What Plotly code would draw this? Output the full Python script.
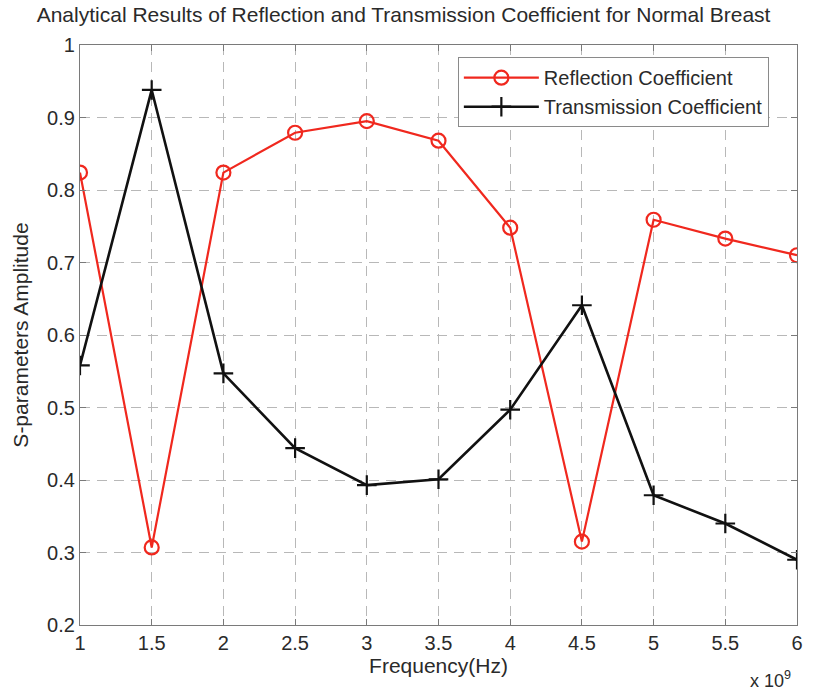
import plotly.graph_objects as go

freq_hz = [1.0e9, 1.5e9, 2.0e9, 2.5e9, 3.0e9, 3.5e9, 4.0e9, 4.5e9, 5.0e9, 5.5e9, 6.0e9]
reflection = [0.824, 0.307, 0.824, 0.879, 0.895, 0.868, 0.748, 0.315, 0.759, 0.733, 0.710]
transmission = [0.558, 0.938, 0.547, 0.444, 0.393, 0.401, 0.497, 0.641, 0.379, 0.340, 0.290]

x_tickvals = [1.0e9, 1.5e9, 2.0e9, 2.5e9, 3.0e9, 3.5e9, 4.0e9, 4.5e9, 5.0e9, 5.5e9, 6.0e9]
x_ticktext = ["1", "1.5", "2", "2.5", "3", "3.5", "4", "4.5", "5", "5.5", "6"]
y_tickvals = [0.2, 0.3, 0.4, 0.5, 0.6, 0.7, 0.8, 0.9, 1.0]
y_ticktext = ["0.2", "0.3", "0.4", "0.5", "0.6", "0.7", "0.8", "0.9", "1"]

FONT = "Arial, Liberation Sans, sans-serif"
TXT = "#2a2a2a"

fig = go.Figure()
fig.add_trace(go.Scatter(
    x=freq_hz, y=reflection, mode="lines+markers", name="Reflection Coefficient",
    line=dict(color="#f0281e", width=2.2),
    marker=dict(symbol="circle-open", size=14, color="#f0281e", line=dict(width=2.2)),
))
fig.add_trace(go.Scatter(
    x=freq_hz, y=transmission, mode="lines+markers", name="Transmission Coefficient",
    line=dict(color="#111111", width=2.6),
    marker=dict(symbol="cross-thin-open", size=14, color="#111111", line=dict(width=2.2)),
))

axis_common = dict(
    showline=True, linecolor="#7a7a7a", linewidth=1.2, mirror="ticks",
    ticks="inside", ticklen=6, tickcolor="#7a7a7a",
    showgrid=True, gridcolor="#b8b8b8", gridwidth=1, griddash="10px,7px",
    zeroline=False, tickfont=dict(family=FONT, size=20, color=TXT),
)

fig.update_xaxes(range=[1.0e9, 6.0e9], tickvals=x_tickvals, ticktext=x_ticktext,
                 title=dict(text="Frequency(Hz)", font=dict(family=FONT, size=21, color=TXT), standoff=2),
                 **axis_common)
fig.update_yaxes(range=[0.2, 1.0], tickvals=y_tickvals, ticktext=y_ticktext,
                 title=dict(text="S-parameters Amplitude", font=dict(family=FONT, size=21, color=TXT), standoff=12),
                 **axis_common)

fig.update_layout(
    width=815, height=693,
    margin=dict(l=80, r=18, t=45, b=68),
    paper_bgcolor="white", plot_bgcolor="white",
    font=dict(family=FONT, color=TXT),
    title=dict(text="Analytical Results of Reflection and Transmission Coefficient for Normal Breast",
               font=dict(family=FONT, size=21, color=TXT), x=0.045, xanchor="left", y=0.99, yanchor="top"),
    showlegend=True,
    legend=dict(x=0.527, y=0.979, xanchor="left", yanchor="top",
                bgcolor="white", bordercolor="#8a8a8a", borderwidth=1,
                font=dict(family=FONT, size=20, color=TXT), itemwidth=75,
                tracegroupgap=2),
    annotations=[dict(text="x 10<sup>9</sup>", xref="paper", yref="paper", x=0.995, y=-0.07,
                      xanchor="right", yanchor="top", showarrow=False,
                      font=dict(family=FONT, size=18, color=TXT))],
)

fig.write_html("out.html")
